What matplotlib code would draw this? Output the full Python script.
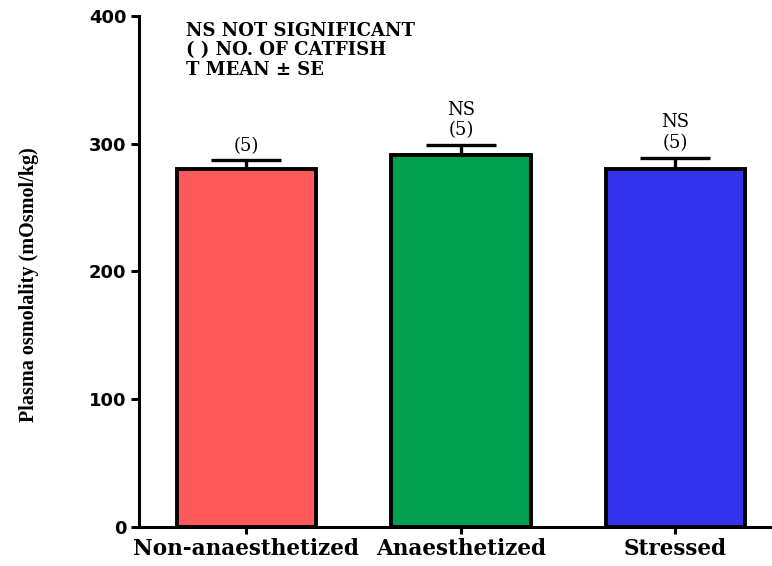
import matplotlib
matplotlib.use("Agg")
import matplotlib.pyplot as plt

# data
groups = ["Non-anaesthetized", "Anaesthetized", "Stressed"]
means = [280, 291, 280]
se = [7, 8, 9]
n_fish = ["(5)", "(5)", "(5)"]
sig = ["", "NS", "NS"]
colors = ["#FF5A5A", "#00A050", "#3333EE"]

fig = plt.figure(figsize=(7.72, 5.66), dpi=100)
ax = fig.add_axes([0.180, 0.069, 0.82, 0.903])

x = list(range(len(groups)))
ax.bar(x, means, width=0.65, color=colors, edgecolor="black", linewidth=2.8, zorder=2)
ax.errorbar(x, means, yerr=[[0] * len(se), se], fmt="none", ecolor="black",
            elinewidth=2.4, capsize=25, capthick=2.4, zorder=1)

# labels above error bars
for xi, m, s, n, t in zip(x, means, se, n_fish, sig):
    ax.annotate(n, (xi, m + s), xytext=(0, 4), textcoords="offset points",
                ha="center", va="bottom", fontsize=13, family="DejaVu Serif")
    if t:
        ax.annotate(t, (xi, m + s), xytext=(0, 19), textcoords="offset points",
                    ha="center", va="bottom", fontsize=13, family="DejaVu Serif")

# key text
ax.text(0.075, 0.988, "NS NOT SIGNIFICANT\n( ) NO. OF CATFISH\n\u03a4 MEAN \u00b1 SE",
        transform=ax.transAxes, ha="left", va="top", fontsize=13,
        family="DejaVu Serif", fontweight="bold", linespacing=1.1)

ax.set_xlim(-0.5, 2.45)
ax.set_ylim(0, 400)
ax.set_yticks([0, 100, 200, 300, 400])
ax.set_xticks(x)
ax.set_xticklabels(groups, family="DejaVu Serif", fontweight="bold", fontsize=15.5)
for lab in ax.get_yticklabels():
    lab.set_family("DejaVu Sans")
    lab.set_fontweight("bold")
    lab.set_fontsize(13)
ax.set_ylabel("Plasma osmolality (mOsmol/kg)", family="Liberation Serif",
              fontweight="bold", fontsize=14.5, labelpad=36)
ax.yaxis.label.set_y(0.474)

ax.spines["top"].set_visible(False)
ax.spines["right"].set_visible(False)
ax.spines["left"].set_linewidth(2.2)
ax.spines["bottom"].set_linewidth(2.2)
ax.tick_params(axis="y", width=2.2, length=6, pad=3)
ax.tick_params(axis="x", width=2.2, length=5, pad=3)

fig.savefig("out.png", dpi=100)
